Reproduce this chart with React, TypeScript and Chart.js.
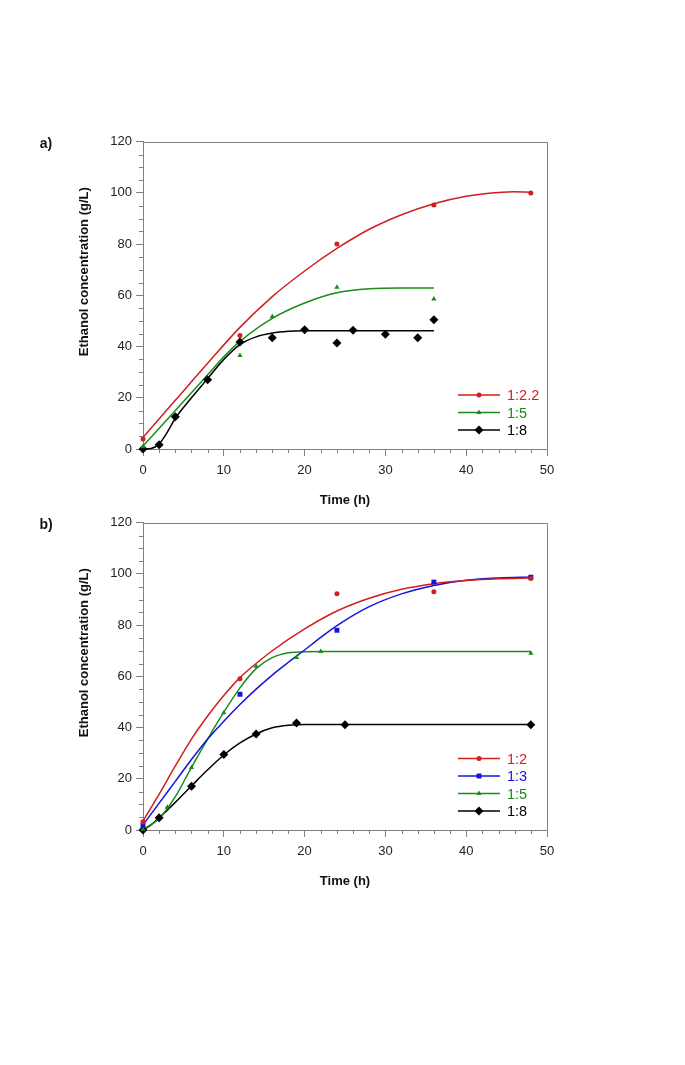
import React, { useEffect, useRef } from 'react';
import { Chart, registerables } from 'chart.js';

Chart.register(...registerables);

const FONT = "'Liberation Sans', Arial, sans-serif";
const RED = 'rgb(210,30,30)';
const GREEN = 'rgb(25,140,25)';
const BLUE = 'rgb(20,20,220)';
const BLACK = 'rgb(0,0,0)';
const AXIS = 'rgb(128,128,128)';

// ---------- Panel a) ----------
const aLabels = ['1:2.2', '1:5', '1:8'];

const aRedPtT = [0, 12, 24, 36, 48];
const aRedPtV = [3.9, 44.3, 80.1, 95.3, 100.0];
const aGreenPtT = [0, 12, 16, 24, 36];
const aGreenPtV = [0.9, 36.5, 51.7, 63.2, 58.6];
const aBlackPtT = [0, 2, 4, 8, 12, 16, 20, 24, 26, 30, 34, 36];
const aBlackPtV = [0, 1.7, 12.6, 27.0, 41.8, 43.4, 46.6, 41.4, 46.4, 44.8, 43.4, 50.5];

const aRedFitT = [0, 4, 8, 12, 16, 20, 24, 28, 32, 36, 40, 44, 46, 48];
const aRedFitV = [4.5, 19, 33.5, 47.5, 59.5, 69.5, 78.3, 85.8, 91.5, 95.8, 98.7, 100.2, 100.5, 100.3];
const aGreenFitT = [0, 4, 8, 10, 12, 16, 20, 24, 28, 32, 36];
const aGreenFitV = [1.2, 15, 29, 36, 42, 51, 57, 61, 62.6, 62.9, 62.9];
const aBlackFitT = [0, 1, 2, 3, 4, 6, 8, 10, 12, 14, 16, 18, 20, 36];
const aBlackFitV = [0, 0.2, 2, 6.5, 12, 20, 27.5, 35, 40.8, 43.8, 45.3, 46, 46.2, 46.2];

// ---------- Panel b) ----------
const bLabels = ['1:2', '1:3', '1:5', '1:8'];

const bRedPtT = [0, 12, 24, 36, 48];
const bRedPtV = [3.2, 59.1, 92.3, 93.0, 98.2];
const bBluePtT = [0, 12, 24, 36, 48];
const bBluePtV = [1.8, 53.0, 78.0, 96.8, 98.7];
const bGreenPtT = [0, 3, 6, 10, 14, 19, 22, 48];
const bGreenPtV = [0.3, 8.9, 24.4, 45.8, 63.9, 67.4, 69.7, 69.0];
const bBlackPtT = [0, 2, 6, 10, 14, 19, 25, 48];
const bBlackPtV = [0, 4.8, 17.1, 29.5, 37.5, 41.8, 41.1, 41.1];

const bRedFitT = [0, 2, 4, 6, 8, 10, 12, 14, 16, 20, 24, 28, 32, 36, 40, 44, 48];
const bRedFitV = [3.5, 14, 25, 35.5, 44.5, 52.5, 59.5, 65, 70, 78.5, 85.5, 90.5, 94, 96.2, 97.4, 98.1, 98.4];
const bBlueFitT = [0, 2, 4, 6, 8, 10, 12, 14, 16, 18, 20, 22, 24, 28, 32, 36, 40, 44, 48];
const bBlueFitV = [2, 10.5, 19, 27.5, 35.5, 42.5, 49, 55, 60.5, 65.5, 70.3, 75.2, 79.8, 87.2, 92.2, 95.5, 97.5, 98.4, 98.8];
const bGreenFitT = [0, 2, 4, 6, 8, 10, 12, 14, 16, 18, 20, 22, 48];
const bGreenFitV = [0.3, 4.5, 13, 24.5, 35.5, 46, 55.5, 63, 67.3, 69.2, 69.6, 69.7, 69.7];
const bBlackFitT = [0, 1, 2, 4, 6, 8, 10, 12, 14, 16, 18, 20, 22, 48];
const bBlackFitV = [0, 2, 4.8, 10.8, 17.2, 23.5, 29.3, 34, 37.5, 39.9, 40.9, 41.2, 41.2, 41.2];

const timeMax = 50;
const timeStep = 10;
const concMax = 120;
const concStep = 20;

type Series = {
  label: string;
  color: string;
  style: string;
  radius: number;
  ptT: number[];
  ptV: number[];
  fitT: number[];
  fitV: number[];
};

const zip = (t: number[], v: number[]) => t.map((x, i) => ({ x, y: v[i] }));

function buildDatasets(series: Series[]) {
  const pts = series.map((s) => ({
    label: s.label + ' data',
    data: zip(s.ptT, s.ptV),
    showLine: false,
    pointStyle: s.style,
    pointRadius: s.radius,
    pointBackgroundColor: s.color,
    pointBorderColor: s.color,
    pointBorderWidth: 0,
    clip: false as any,
  }));
  const fits = series.map((s) => ({
    label: s.label,
    data: zip(s.fitT, s.fitV),
    showLine: true,
    borderColor: s.color,
    borderWidth: 1.5,
    pointRadius: 0,
    cubicInterpolationMode: 'monotone' as const,
    clip: false as any,
  }));
  return [...pts, ...fits];
}

function drawMarker(ctx: CanvasRenderingContext2D, style: string, r: number, x: number, y: number, color: string) {
  ctx.save();
  ctx.fillStyle = color;
  ctx.beginPath();
  if (style === 'circle') {
    ctx.arc(x, y, r, 0, Math.PI * 2);
  } else if (style === 'rect') {
    const s = r * Math.SQRT1_2;
    ctx.rect(x - s, y - s, 2 * s, 2 * s);
  } else if (style === 'triangle') {
    ctx.moveTo(x, y - r);
    ctx.lineTo(x + r * 0.866, y + r * 0.5);
    ctx.lineTo(x - r * 0.866, y + r * 0.5);
    ctx.closePath();
  } else {
    ctx.moveTo(x, y - r);
    ctx.lineTo(x + r, y);
    ctx.lineTo(x, y + r);
    ctx.lineTo(x - r, y);
    ctx.closePath();
  }
  ctx.fill();
  ctx.restore();
}

const framePlugin = {
  id: 'frame',
  afterDraw(chart: any, _args: any, opts: any) {
    const { ctx, chartArea } = chart;
    const { left, right, top, bottom } = chartArea;
    const xs = chart.scales.x;
    const ys = chart.scales.y;
    ctx.save();
    ctx.strokeStyle = AXIS;
    ctx.lineWidth = 1;
    ctx.beginPath();
    ctx.moveTo(left, Math.round(top) + 0.5);
    ctx.lineTo(Math.round(right) + 0.5, Math.round(top) + 0.5);
    ctx.lineTo(Math.round(right) + 0.5, bottom);
    ctx.stroke();
    // minor ticks
    ctx.beginPath();
    for (let v = 0; v <= concMax; v += 5) {
      if (v % concStep === 0) continue;
      const py = Math.round(ys.getPixelForValue(v)) + 0.5;
      ctx.moveTo(left - 4, py);
      ctx.lineTo(left, py);
    }
    for (let t = 0; t <= timeMax; t += 2) {
      if (t % timeStep === 0) continue;
      const px = Math.round(xs.getPixelForValue(t)) + 0.5;
      ctx.moveTo(px, bottom);
      ctx.lineTo(px, bottom + 4);
    }
    ctx.stroke();

    // y title
    ctx.fillStyle = '#111';
    ctx.font = `bold 13px ${FONT}`;
    ctx.textAlign = 'center';
    ctx.textBaseline = 'middle';
    ctx.save();
    ctx.translate(84, top + 130);
    ctx.rotate(-Math.PI / 2);
    ctx.fillText(opts.yTitle, 0, 0);
    ctx.restore();

    // panel label
    ctx.font = `bold 14px ${FONT}`;
    ctx.fillText(opts.panel, 46, top + 2);

    // legend
    const series: Series[] = opts.series;
    const n = series.length;
    series.forEach((s, i) => {
      const y = bottom - 19 - (n - 1 - i) * 17.5;
      ctx.strokeStyle = s.color;
      ctx.lineWidth = 1.5;
      ctx.beginPath();
      ctx.moveTo(458, y);
      ctx.lineTo(500, y);
      ctx.stroke();
      drawMarker(ctx, s.style, s.radius, 479, y, s.color);
      ctx.fillStyle = s.color;
      ctx.font = `14.5px ${FONT}`;
      ctx.textAlign = 'left';
      ctx.textBaseline = 'middle';
      ctx.fillText(s.label, 507, y + 1);
    });
    ctx.restore();
  },
};

function makeConfig(series: Series[], panel: string): any {
  return {
    type: 'scatter',
    data: { datasets: buildDatasets(series) },
    plugins: [framePlugin],
    options: {
      animation: false,
      responsive: false,
      devicePixelRatio: 1,
      events: [],
      layout: { padding: { left: 0, top: 21.7, right: 23, bottom: 0 } },
      plugins: {
        legend: { display: false },
        tooltip: { enabled: false },
        frame: { series, panel, yTitle: 'Ethanol concentration (g/L)' },
      },
      scales: {
        x: {
          type: 'linear',
          min: 0,
          max: timeMax,
          afterFit: (s: any) => { s.height = 71; },
          ticks: { stepSize: timeStep, padding: 7, color: '#222', font: { family: FONT, size: 13 }, maxRotation: 0, autoSkip: false },
          grid: { drawOnChartArea: false, drawTicks: true, tickLength: 7, color: AXIS, tickColor: AXIS },
          border: { display: true, color: AXIS, width: 1 },
          title: { display: true, text: 'Time (h)', color: '#111', font: { family: FONT, size: 13, weight: 'bold' }, padding: { top: 0, bottom: 12 } },
        },
        y: {
          type: 'linear',
          min: 0,
          max: concMax,
          afterFit: (s: any) => { s.width = 143; },
          ticks: { stepSize: concStep, padding: 4, color: '#222', font: { family: FONT, size: 13 } },
          grid: { drawOnChartArea: false, drawTicks: true, tickLength: 7, color: AXIS, tickColor: AXIS },
          border: { display: true, color: AXIS, width: 1 },
        },
      },
    },
  };
}

const seriesA: Series[] = [
  { label: aLabels[0], color: RED, style: 'circle', radius: 2.5, ptT: aRedPtT, ptV: aRedPtV, fitT: aRedFitT, fitV: aRedFitV },
  { label: aLabels[1], color: GREEN, style: 'triangle', radius: 3, ptT: aGreenPtT, ptV: aGreenPtV, fitT: aGreenFitT, fitV: aGreenFitV },
  { label: aLabels[2], color: BLACK, style: 'rectRot', radius: 4.5, ptT: aBlackPtT, ptV: aBlackPtV, fitT: aBlackFitT, fitV: aBlackFitV },
];

const seriesB: Series[] = [
  { label: bLabels[0], color: RED, style: 'circle', radius: 2.5, ptT: bRedPtT, ptV: bRedPtV, fitT: bRedFitT, fitV: bRedFitV },
  { label: bLabels[1], color: BLUE, style: 'rect', radius: 3.5, ptT: bBluePtT, ptV: bBluePtV, fitT: bBlueFitT, fitV: bBlueFitV },
  { label: bLabels[2], color: GREEN, style: 'triangle', radius: 3, ptT: bGreenPtT, ptV: bGreenPtV, fitT: bGreenFitT, fitV: bGreenFitV },
  { label: bLabels[3], color: BLACK, style: 'rectRot', radius: 4.5, ptT: bBlackPtT, ptV: bBlackPtV, fitT: bBlackFitT, fitV: bBlackFitV },
];

function Panel({ series, panel, top }: { series: Series[]; panel: string; top: number }) {
  const ref = useRef<HTMLCanvasElement | null>(null);
  useEffect(() => {
    if (!ref.current) return;
    const chart = new Chart(ref.current, makeConfig(series, panel));
    return () => chart.destroy();
  }, [series, panel]);
  return (
    <canvas
      ref={ref}
      width={570}
      height={400}
      style={{ position: 'absolute', left: 0, top, width: 570, height: 400 }}
    />
  );
}

export default function App() {
  return (
    <div style={{ position: 'absolute', left: 0, top: 0, width: 685, height: 1065, background: '#fff' }}>
      <Panel series={seriesA} panel="a)" top={120} />
      <Panel series={seriesB} panel="b)" top={501} />
    </div>
  );
}
